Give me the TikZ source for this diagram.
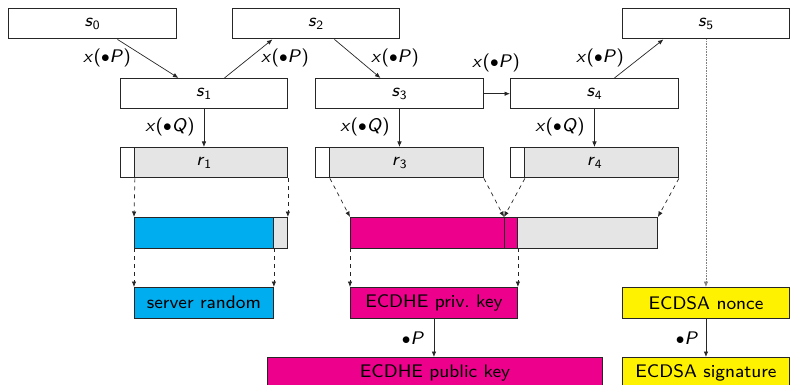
\documentclass[tikz,border=0pt]{standalone}
\usepackage{fontspec}
\setsansfont{lmsans8-regular.otf}[ItalicFont=lmsans8-oblique.otf]
\usetikzlibrary{arrows.meta}
\definecolor{cyanp}{RGB}{0,174,239}
\definecolor{magp}{RGB}{236,0,140}
\definecolor{yelp}{RGB}{255,242,0}
\definecolor{lgray}{RGB}{229,229,229}
\newcommand{\xlab}[1]{\textit{x}(${\bullet}$\textit{#1})}
\newcommand{\slab}[1]{\textit{s}\textsubscript{#1}}
\begin{document}
\begin{tikzpicture}[x=1pt,y=-1pt,
  font=\sffamily\fontsize{18.2}{20}\selectfont,
  box/.style={draw=black!85, line width=0.9pt, inner sep=0pt, anchor=north west, minimum height=30.5pt},
  arr/.style={draw=black!85, line width=0.7pt, -{Latex[length=5.5pt,width=4.5pt]}},
  darr/.style={arr, dash pattern=on 4pt off 4pt},
  lab/.style={inner sep=0pt}]
\useasboundingbox (0,0) rectangle (790,385);
% top states
\node[box, minimum width=168pt] (s0) at (8,8) {\slab{0}};
\node[box, minimum width=167pt] (s2) at (232,8) {\slab{2}};
\node[box, minimum width=167pt] (s5) at (622,8) {\slab{5}};
\node[box, minimum width=167pt] (s1) at (120,78) {\slab{1}};
\node[box, minimum width=168pt] (s3) at (315,78) {\slab{3}};
\node[box, minimum width=168pt] (s4) at (510,78) {\slab{4}};
% r boxes
\node[box, fill=lgray, minimum width=167pt] (r1) at (120,147) {\textit{r}\textsubscript{1}};
\node[box, fill=white, minimum width=14pt] (r1w) at (120,147) {};
\node[box, fill=lgray, minimum width=168pt] (r3) at (315,147) {\textit{r}\textsubscript{3}};
\node[box, fill=white, minimum width=14pt] (r3w) at (315,147) {};
\node[box, fill=lgray, minimum width=168pt] (r4) at (510,147) {\textit{r}\textsubscript{4}};
\node[box, fill=white, minimum width=14pt] (r4w) at (510,147) {};
% bars
\node[box, fill=lgray, minimum width=153pt] (bar1) at (134,217) {};
\node[box, fill=cyanp, minimum width=139pt] (bar1a) at (134,217) {};
\node[box, fill=lgray, minimum width=307pt] (bar2) at (350,217) {};
\node[box, fill=magp, minimum width=167pt] (bar2a) at (350,217) {};
\coordinate (split) at (504,217);
\coordinate (splitb) at (504,248);
\draw[draw=black!85, line width=0.9pt] (split) -- (splitb);
% result boxes
\node[box, fill=cyanp, minimum width=139pt] (srv) at (134,287) {server random};
\node[box, fill=magp, minimum width=167pt] (priv) at (350,287) {ECDHE priv.\ key};
\node[box, fill=magp, minimum width=335pt] (pub) at (267,357) {ECDHE public key};
\node[box, fill=yelp, minimum width=167pt] (nonce) at (622,287) {ECDSA nonce};
\node[box, fill=yelp, minimum width=167pt] (sig) at (622,357) {ECDSA signature};
% solid arrows
\draw[arr] ([xshift=25pt]s0.south) -- ([xshift=-25.5pt]s1.north);
\draw[arr] ([xshift=20.5pt]s1.north) -- ([xshift=-43.5pt]s2.south);
\draw[arr] ([xshift=18.5pt]s2.south) -- ([xshift=-19pt]s3.north);
\draw[arr] (s3.east) -- (s4.west);
\draw[arr] ([xshift=20pt]s4.north) -- ([xshift=-42.5pt]s5.south);
\draw[arr] (s1.south) -- (r1.north);
\draw[arr] (s3.south) -- (r3.north);
\draw[arr] (s4.south) -- (r4.north);
\draw[arr] (priv.south) -- (priv.south |- pub.north);
\draw[arr] (nonce.south) -- (sig.north);
\draw[arr, draw=black!50, line width=0.6pt, densely dotted] (s5.south) -- (nonce.north);
% dashed arrows
\draw[darr] (r1w.south east) -- (bar1.north west);
\draw[darr] (r1.south east) -- (bar1.north east);
\draw[darr] (bar1a.south west) -- (srv.north west);
\draw[darr] (bar1a.south east) -- (srv.north east);
\draw[darr] (r3w.south east) -- (bar2.north west);
\draw[darr] (r3.south east) -- (split);
\draw[darr] (r4w.south east) -- (split);
\draw[darr] (r4.south east) -- (bar2.north east);
\draw[darr] (bar2a.south west) -- (priv.north west);
\draw[darr] (bar2a.south east) -- (priv.north east);
% labels
\node[lab] (l01) at (107,58) {\xlab{P}};
\node[lab] (l12) at (285,58) {\xlab{P}};
\node[lab] (l23) at (395,58) {\xlab{P}};
\node[lab] (l34) at (496,63) {\xlab{P}};
\node[lab] (l45) at (600,58) {\xlab{P}};
\node[lab] (q1) at (170,127) {\xlab{Q}};
\node[lab] (q3) at (365,127) {\xlab{Q}};
\node[lab] (q4) at (560,127) {\xlab{Q}};
\node[lab] (p1) at (413,338) {${\bullet}$\textit{P}};
\node[lab] (p2) at (687,338) {${\bullet}$\textit{P}};
\end{tikzpicture}
\end{document}
